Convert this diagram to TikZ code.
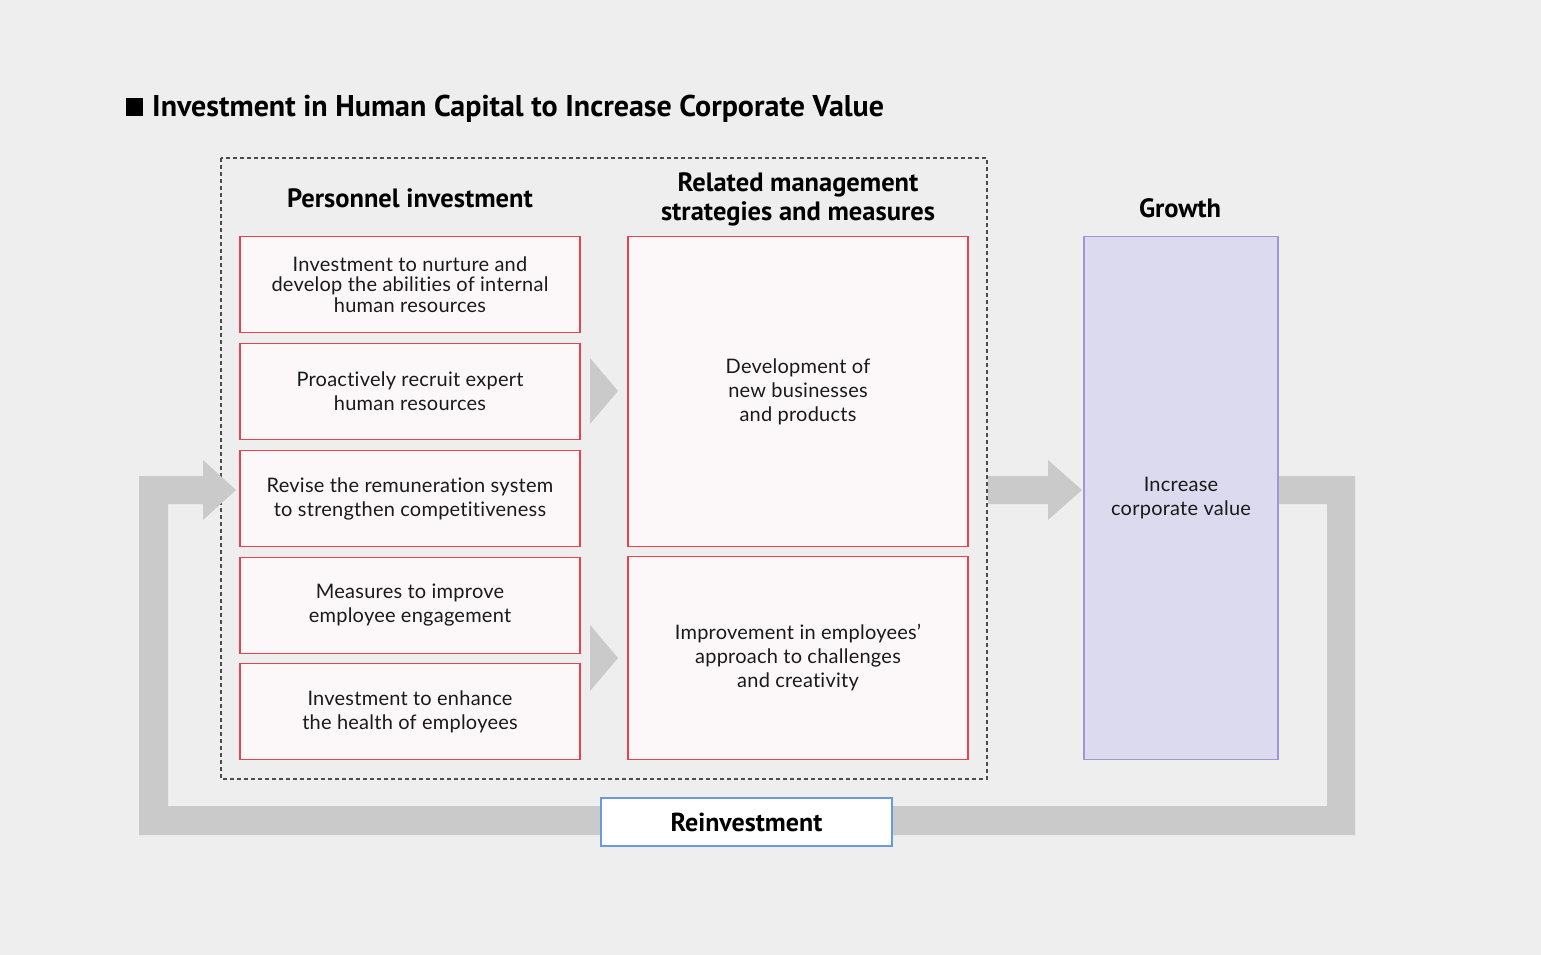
\documentclass[tikz,border=0pt]{standalone}
\usepackage{fontspec}
\setmainfont{Lato}[LetterSpace=1.2,Ligatures={NoCommon,NoRare,NoContextual}]
\newfontfamily\hfont{PT Sans}
\definecolor{bg}{HTML}{EEEEEE}
\definecolor{arr}{HTML}{C9CAC9}
\definecolor{redb}{HTML}{E8424C}
\definecolor{pinkf}{HTML}{FCF8F9}
\definecolor{lavf}{HTML}{DCDAEE}
\definecolor{lavb}{HTML}{9C97D8}
\definecolor{blueb}{HTML}{6A9BD8}
\definecolor{txt}{HTML}{1A1A1A}
\begin{document}
\begin{tikzpicture}[x=1pt,y=-1pt,
  redbox/.style={draw=redb,fill=pinkf,line width=1.4pt,minimum width=340pt,inner sep=0pt,align=center,text=txt,font=\fontsize{20}{24}\selectfont},
  head/.style={align=center,text=black,font=\hfont\bfseries\fontsize{26.5}{29}\selectfont},
  grayarrow/.style={fill=arr,draw=none}]
\useasboundingbox (0,0) rectangle (1541,955);
\fill[bg] (0,0) rectangle (1541,955);
% title
\fill[black] (126,98) rectangle (143,116);
\node[anchor=base west,inner sep=0pt,font=\hfont\bfseries\fontsize{30}{32}\selectfont] (title) at (152,117) {Investment in Human Capital to Increase Corporate Value};
% dashed frame
\draw[draw=black!70,line width=1.1pt,dash pattern=on 4pt off 3pt] (221,158) rectangle (987,779);
% headings
\node[head] (h1) at (410,198) {Personnel investment};
\node[head] (h2) at (798,199.5) {Related management\\strategies and measures};
\node[head] (h3) at (1180,208) {Growth};
% left boxes
\node[redbox,minimum height=96pt,font=\fontsize{20}{20.5}\selectfont] (b1) at (410,284.5) {Investment to nurture and\\develop the abilities of internal\\human resources};
\node[redbox,minimum height=96pt] (b2) at (410,391.5) {Proactively recruit expert\\human resources};
\node[redbox,minimum height=96pt] (b3) at (410,498.5) {Revise the remuneration system\\to strengthen competitiveness};
\node[redbox,minimum height=96pt] (b4) at (410,605.5) {Measures to improve\\employee engagement};
\node[redbox,minimum height=96pt] (b5) at (410,711.5) {Investment to enhance\\the health of employees};
% middle boxes
\node[redbox,minimum height=310pt] (m1) at (798,391.5) {Development of\\new businesses\\and products};
\node[redbox,minimum height=203pt] (m2) at (798,658) {Improvement in employees'\\approach to challenges\\and creativity};
% growth box
\node[draw=lavb,fill=lavf,line width=1.4pt,minimum width=194pt,minimum height=523pt,inner sep=0pt,align=center,text=txt,font=\fontsize{20}{24}\selectfont] (g) at (1181,498) {Increase\\corporate value};
% small arrows
\fill[grayarrow] (590,358) -- (618,391) -- (590,424) -- cycle;
\fill[grayarrow] (590,625) -- (618,658) -- (590,691) -- cycle;
% arrow to growth
\fill[grayarrow] (988,476) -- (1048,476) -- (1048,460) -- (1082,490) -- (1048,520) -- (1048,504) -- (988,504) -- cycle;
% reinvestment loop
\fill[grayarrow] (1279,476) -- (1355,476) -- (1355,835) -- (139,835) -- (139,476) -- (203,476) -- (203,460) -- (236,490) -- (203,520) -- (203,504) -- (168,504) -- (168,806) -- (1327,806) -- (1327,504) -- (1279,504) -- cycle;
\node[draw=blueb,fill=white,line width=1.2pt,minimum width=291pt,minimum height=48pt,inner sep=0pt,font=\hfont\bfseries\fontsize{26}{29}\selectfont] (re) at (746.5,822) {Reinvestment};
\end{tikzpicture}
\end{document}
